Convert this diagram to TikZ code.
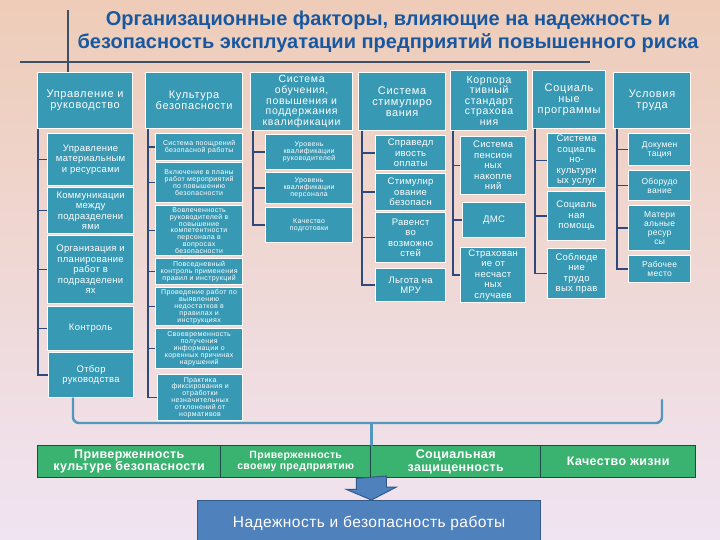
\documentclass[tikz,border=0pt]{standalone}
\usepackage{fontspec}
\setmainfont{Liberation Sans}
\newfontfamily\hdrfont[LetterSpace=6]{Liberation Sans}
\newfontfamily\subfont[LetterSpace=3]{Liberation Sans}
\newfontfamily\tinyfont[LetterSpace=5]{Liberation Sans}
\newfontfamily\barfont[LetterSpace=3]{Liberation Sans}
\usepackage{tikz}
\definecolor{bgTop}{RGB}{238, 204, 184}
\definecolor{bgMid}{RGB}{172, 202, 236}
\definecolor{bgBot}{RGB}{240, 228, 242}
\definecolor{titleBlue}{RGB}{24, 88, 160}
\definecolor{ruleGrey}{RGB}{62, 80, 104}
\definecolor{boxTeal}{RGB}{56, 153, 180}
\definecolor{connNavy}{RGB}{46, 74, 124}
\definecolor{busTeal}{RGB}{82, 152, 188}
\definecolor{barGreen}{RGB}{58, 178, 112}
\definecolor{barEdge}{RGB}{32, 72, 70}
\definecolor{resBlue}{RGB}{79, 129, 189}
\definecolor{resEdge}{RGB}{52, 88, 136}

\tikzset{
  hdr/.style={draw=white, line width=1.2pt, fill=boxTeal, text=white, anchor=north west,
    align=center, inner sep=1pt, font=\hdrfont\fontsize{11}{11}\selectfont},
  hdrlong/.style={hdr, font=\hdrfont\fontsize{10.5}{10.6}\selectfont},
  subbig/.style={hdr, font=\subfont\fontsize{9.5}{10.5}\selectfont},
  submid/.style={hdr, font=\subfont\fontsize{8.5}{9.2}\selectfont},
  subsmall/.style={hdr, font=\tinyfont\fontsize{7}{6.9}\selectfont},
  wh/.style 2 args={minimum width=#1, minimum height=#2},
  conn/.style={connNavy, line width=1.5pt},
  bus/.style={busTeal, line width=2.4pt, line cap=round},
  bar/.style={draw=barEdge, line width=1.4pt, fill=barGreen, text=white, anchor=north west,
    align=center, inner sep=1pt, minimum height=32, font=\barfont\bfseries\fontsize{12.5}{12.5}\selectfont},
}

\begin{document}
\begin{tikzpicture}[x=1pt, y=-1pt]
      \useasboundingbox (0,0) rectangle (720,540);
      \shade[top color=bgTop, middle color=bgMid, bottom color=bgBot] (0,0) rectangle (720,540);

      % title
      \node[text=titleBlue, align=center, font=\bfseries\fontsize{20}{23}\selectfont] (title) at (388,32)
        {Организационные факторы, влияющие на надежность и\\безопасность эксплуатации предприятий повышенного риска};
      \draw[ruleGrey, line width=1.4pt] (68,10) -- (68,72);
      \draw[ruleGrey, line width=1.6pt] (20,62) -- (590,62);

      % headers
      \node[hdr, wh={95}{56}] (h1) at (37,72) {Управление и\\руководство};
      \node[hdr, wh={97}{56}] (h2) at (145,72) {Культура\\безопасности};
      \node[hdrlong, wh={102}{58}] (h3) at (250,72) {Система\\обучения,\\повышения и\\поддержания\\квалификации};
      \node[hdr, wh={87}{58}] (h4) at (358,72) {Система\\стимулиро\\вания};
      \node[hdrlong, wh={77}{60}] (h5) at (450,70) {Корпора\\тивный\\стандарт\\страхова\\ния};
      \node[hdr, wh={73}{58}] (h6) at (532,70) {Социаль\\ные\\программы};
      \node[hdr, wh={77}{56}] (h7) at (613,72) {Условия\\труда};

      % column 1
      \node[subbig, wh={86}{52}] (a1) at (47,133) {Управление\\материальным\\и ресурсами};
      \node[subbig, wh={86}{46}] (a2) at (47,187) {Коммуникации\\между\\подразделени\\ями};
      \node[subbig, wh={86}{68}] (a3) at (47,235) {Организация и\\планирование\\работ в\\подразделени\\ях};
      \node[subbig, wh={86}{44}] (a4) at (47,306) {Контроль};
      \node[subbig, wh={85}{45}] (a5) at (48,352) {Отбор\\руководства};
      \draw[conn] ([xshift=1pt]h1.south west) |- (a1.west) ([xshift=1pt]h1.south west) |- (a2.west)
        ([xshift=1pt]h1.south west) |- (a3.west) ([xshift=1pt]h1.south west) |- (a4.west)
        ([xshift=1pt]h1.south west) |- (a5.west);

      % column 2
      \node[subsmall, wh={87}{27}] (b1) at (155,133) {Система поощрений\\безопасной работы};
      \node[subsmall, wh={87}{40}] (b2) at (155,162) {Включение в планы\\работ мероприятий\\по повышению\\безопасности};
      \node[subsmall, wh={87}{50}] (b3) at (155,205) {Вовлеченность\\руководителей в\\повышение\\компетентности\\персонала в\\вопросах\\безопасности};
      \node[subsmall, wh={87}{26}] (b4) at (155,258) {Повседневный\\контроль применения\\правил и инструкций};
      \node[subsmall, wh={87}{38}] (b5) at (155,287) {Проведение работ по\\выявлению\\недостатков в\\правилах и\\инструкциях};
      \node[subsmall, wh={87}{40}] (b6) at (155,328) {Своевременность\\получения\\информации о\\коренных причинах\\нарушений};
      \node[subsmall, wh={85}{46}] (b7) at (157,374) {Практика\\фиксирования и\\отработки\\незначительных\\отклонений от\\нормативов};
      \draw[conn] ([xshift=3pt]h2.south west) |- (b1.west) ([xshift=3pt]h2.south west) |- (b2.west)
        ([xshift=3pt]h2.south west) |- (b3.west) ([xshift=3pt]h2.south west) |- (b4.west)
        ([xshift=3pt]h2.south west) |- (b5.west) ([xshift=3pt]h2.south west) |- (b6.west)
        ([xshift=3pt]h2.south west) |- (b7.west);

      % column 3
      \node[subsmall, wh={87}{35}] (c1) at (265,134) {Уровень\\квалификации\\руководителей};
      \node[subsmall, wh={87}{31}] (c2) at (265,172) {Уровень\\квалификации\\персонала};
      \node[subsmall, wh={87}{35}] (c3) at (265,207) {Качество\\подготовки};
      \draw[conn] ([xshift=3pt]h3.south west) |- (c1.west) ([xshift=3pt]h3.south west) |- (c2.west)
        ([xshift=3pt]h3.south west) |- (c3.west);

      % column 4
      \node[subbig, wh={70}{35}] (d1) at (375,135) {Справедл\\ивость\\оплаты};
      \node[subbig, wh={70}{37}] (d2) at (375,173) {Стимулир\\ование\\безопасн};
      \node[subbig, wh={70}{50}] (d3) at (375,212) {Равенст\\во\\возможно\\стей};
      \node[subbig, wh={70}{33}] (d4) at (375,268) {Льгота на\\МРУ};
      \draw[conn] ([xshift=4pt]h4.south west) |- (d1.west) ([xshift=4pt]h4.south west) |- (d2.west)
        ([xshift=4pt]h4.south west) |- (d3.west) ([xshift=4pt]h4.south west) |- (d4.west);

      % column 5
      \node[subbig, wh={65}{58}] (e1) at (460,136) {Система\\пенсион\\ных\\накопле\\ний};
      \node[subbig, wh={63}{35}] (e2) at (462,202) {ДМС};
      \node[subbig, wh={65}{55}] (e3) at (460,247) {Страхован\\ие от\\несчаст\\ных\\случаев};
      \draw[conn] ([xshift=3pt]h5.south west) |- (e1.west) ([xshift=3pt]h5.south west) |- (e2.west)
        ([xshift=3pt]h5.south west) |- (e3.west);

      % column 6
      \node[subbig, wh={58}{54}] (f1) at (547,133) {Система\\социаль\\но-\\культурн\\ых услуг};
      \node[subbig, wh={58}{49}] (f2) at (547,191) {Социаль\\ная\\помощь};
      \node[subbig, wh={58}{50}] (f3) at (547,248) {Соблюде\\ние\\трудо\\вых прав};
      \draw[conn] ([xshift=3pt]h6.south west) |- (f1.west) ([xshift=3pt]h6.south west) |- (f2.west)
        ([xshift=3pt]h6.south west) |- (f3.west);

      % column 7
      \node[submid, wh={62}{32}] (g1) at (628,133) {Докумен\\тация};
      \node[submid, wh={62}{30}] (g2) at (628,170) {Оборудо\\вание};
      \node[submid, wh={62}{45}] (g3) at (628,205) {Матери\\альные\\ресур\\сы};
      \node[submid, wh={62}{27}] (g4) at (628,255) {Рабочее\\место};
      \draw[conn] ([xshift=4pt]h7.south west) |- (g1.west) ([xshift=4pt]h7.south west) |- (g2.west)
        ([xshift=4pt]h7.south west) |- (g3.west) ([xshift=4pt]h7.south west) |- (g4.west);

      % green bar
      \node[bar, minimum width=183] (q1) at (37,445) {Приверженность\\культуре безопасности};
      \node[bar, minimum width=150, font=\barfont\bfseries\fontsize{10.5}{10.5}\selectfont] (q2) at (220,445) {Приверженность\\своему предприятию};
      \node[bar, minimum width=170] (q3) at (370,445) {Социальная\\защищенность};
      \node[bar, minimum width=155] (q4) at (540,445) {Качество жизни};

      % bus line into the bar
      \coordinate (busL) at (73,423);
      \coordinate (busR) at (662,400);
      \draw[bus, rounded corners=6pt] (a5.south -| busL) -- (busL) -- (busL -| busR) -- (busR);
      \draw[bus] (busL -| q2.north east) -- (q2.north east);

      % result
      \node[draw=resEdge, line width=1.4pt, fill=resBlue, text=white, anchor=north west,
        minimum width=343, minimum height=45, font=\barfont\fontsize{15.5}{16}\selectfont] (res) at (197,500)
        {Надежность и безопасность работы};
      \filldraw[fill=resBlue, draw=resEdge, line width=1pt] ([xshift=-15pt]q2.south east) -- ++(0,11) -- ++(-10,0)
        -- (res.north -| q2.south east) -- ++(25,-13) -- ++(-10,0) -- ++(0,-11) -- cycle;
    \end{tikzpicture}
\end{document}
